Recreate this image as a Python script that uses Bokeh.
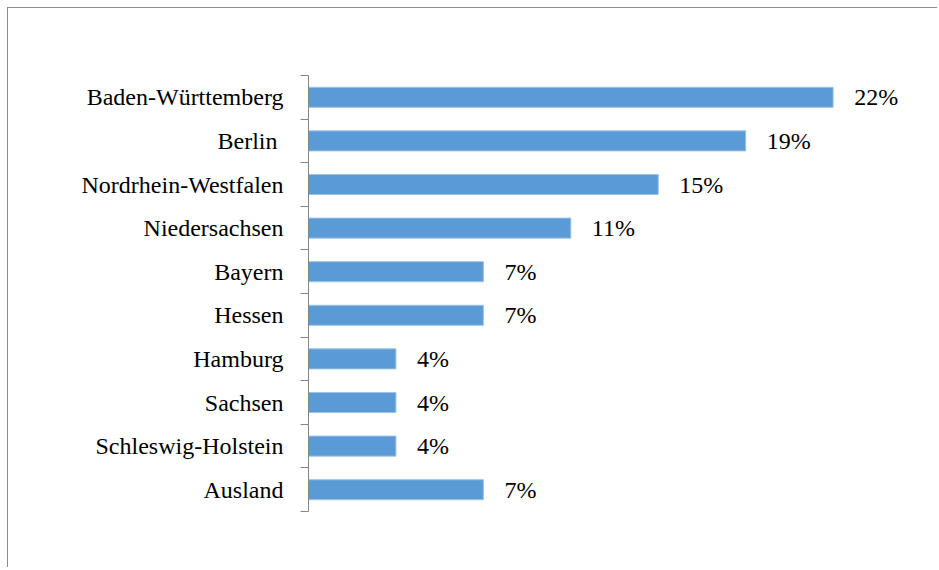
from bokeh.plotting import figure
from bokeh.models import ColumnDataSource, LabelSet, LinearAxis, FixedTicker, Range1d
from bokeh.embed import file_html
from bokeh.resources import INLINE
import numpy as np

categories = ["Baden-Württemberg", "Berlin ", "Nordrhein-Westfalen", "Niedersachsen",
              "Bayern", "Hessen", "Hamburg", "Sachsen", "Schleswig-Holstein", "Ausland"]
shares = [22.2, 18.5, 14.8, 11.1, 7.4, 7.4, 3.7, 3.7, 3.7, 7.4]
share_labels = ["22%", "19%", "15%", "11%", "7%", "7%", "4%", "4%", "4%", "7%"]

n = len(categories)
pos = np.arange(n) + 0.5

FONT = "Liberation Serif"
FS = "24px"

src = ColumnDataSource(dict(y=pos, x=shares, lab=share_labels))

p = figure(width=930, height=560, output_backend="svg", toolbar_location=None,
           x_range=Range1d(0, 26.32), y_range=Range1d(n, 0),
           min_border_left=300, min_border_top=67, min_border_bottom=57, min_border_right=8)
p.styles = {"border-top": "1px solid #8c8c8c", "border-left": "1px solid #8c8c8c",
            "margin-left": "7px", "margin-top": "7px"}
p.outline_line_color = None
p.xgrid.visible = False
p.ygrid.visible = False
p.xaxis.visible = False

p.hbar(y="y", right="x", left=0, height=0.46, source=src,
       fill_color="#5B9BD5", line_color="#9DC3E6", line_width=1)

labels = LabelSet(x="x", y="y", text="lab", source=src, x_offset=21,
                  text_baseline="middle", text_align="left",
                  text_font=FONT, text_font_size=FS, text_color="#000000")
p.add_layout(labels)

# inner axis: boundary tick marks
ax = p.yaxis[0]
ax.ticker = FixedTicker(ticks=list(range(n + 1)))
ax.major_label_overrides = {i: "" for i in range(n + 1)}
ax.major_label_text_font_size = "1px"
ax.major_label_standoff = 0
ax.major_tick_out = 8
ax.major_tick_in = 0
ax.minor_tick_out = 0
ax.minor_tick_in = 0
ax.minor_tick_line_color = None
ax.axis_line_color = "#868686"
ax.major_tick_line_color = "#868686"

# outer axis: category names
lab_ax = LinearAxis(ticker=FixedTicker(ticks=list(pos)),
                    major_label_overrides={float(v): c for v, c in zip(pos, categories)})
lab_ax.axis_line_color = None
lab_ax.major_tick_line_color = None
lab_ax.minor_tick_line_color = None
lab_ax.major_tick_out = 0
lab_ax.major_tick_in = 0
lab_ax.major_label_standoff = 17
lab_ax.major_label_text_font = FONT
lab_ax.major_label_text_font_size = FS
lab_ax.major_label_text_color = "#000000"
p.add_layout(lab_ax, "left")

open("out.html", "w").write(file_html(p, INLINE))
